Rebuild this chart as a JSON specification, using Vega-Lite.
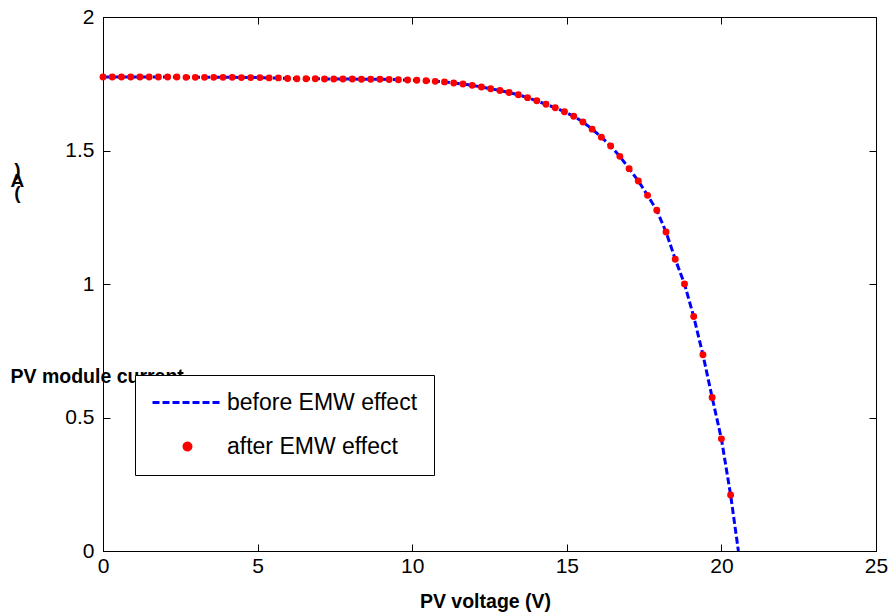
{
  "$schema": "https://vega.github.io/schema/vega-lite/v6.json",
  "width": 773,
  "height": 534,
  "autosize": {"type": "none"},
  "padding": {"left": 103, "top": 17, "right": 15, "bottom": 64},
  "background": "white",
  "config": {
    "view": {"stroke": "black", "strokeWidth": 1},
    "font": "Liberation Sans",
    "axis": {
      "labelFont": "Liberation Sans",
      "labelFontSize": 21,
      "labelColor": "black",
      "labelFlush": false,
      "tickColor": "black",
      "domainColor": "black",
      "tickSize": -7,
      "grid": false,
      "titleFont": "Liberation Sans",
      "titleFontSize": 19.5,
      "titleFontWeight": "bold",
      "titleColor": "black"
    }
  },
  "datasets": {
    "before": [
      {"V": 0.000, "I": 1.775, "series": "before EMW effect"},
      {"V": 0.299, "I": 1.775, "series": "before EMW effect"},
      {"V": 0.597, "I": 1.775, "series": "before EMW effect"},
      {"V": 0.896, "I": 1.775, "series": "before EMW effect"},
      {"V": 1.194, "I": 1.775, "series": "before EMW effect"},
      {"V": 1.493, "I": 1.775, "series": "before EMW effect"},
      {"V": 1.791, "I": 1.775, "series": "before EMW effect"},
      {"V": 2.090, "I": 1.775, "series": "before EMW effect"},
      {"V": 2.388, "I": 1.775, "series": "before EMW effect"},
      {"V": 2.687, "I": 1.774, "series": "before EMW effect"},
      {"V": 2.985, "I": 1.774, "series": "before EMW effect"},
      {"V": 3.284, "I": 1.774, "series": "before EMW effect"},
      {"V": 3.582, "I": 1.774, "series": "before EMW effect"},
      {"V": 3.881, "I": 1.774, "series": "before EMW effect"},
      {"V": 4.179, "I": 1.774, "series": "before EMW effect"},
      {"V": 4.478, "I": 1.773, "series": "before EMW effect"},
      {"V": 4.776, "I": 1.773, "series": "before EMW effect"},
      {"V": 5.075, "I": 1.773, "series": "before EMW effect"},
      {"V": 5.373, "I": 1.772, "series": "before EMW effect"},
      {"V": 5.672, "I": 1.772, "series": "before EMW effect"},
      {"V": 5.970, "I": 1.770, "series": "before EMW effect"},
      {"V": 6.269, "I": 1.769, "series": "before EMW effect"},
      {"V": 6.567, "I": 1.769, "series": "before EMW effect"},
      {"V": 6.866, "I": 1.769, "series": "before EMW effect"},
      {"V": 7.164, "I": 1.768, "series": "before EMW effect"},
      {"V": 7.463, "I": 1.768, "series": "before EMW effect"},
      {"V": 7.761, "I": 1.768, "series": "before EMW effect"},
      {"V": 8.060, "I": 1.768, "series": "before EMW effect"},
      {"V": 8.358, "I": 1.767, "series": "before EMW effect"},
      {"V": 8.657, "I": 1.767, "series": "before EMW effect"},
      {"V": 8.955, "I": 1.767, "series": "before EMW effect"},
      {"V": 9.254, "I": 1.766, "series": "before EMW effect"},
      {"V": 9.552, "I": 1.765, "series": "before EMW effect"},
      {"V": 9.851, "I": 1.764, "series": "before EMW effect"},
      {"V": 10.149, "I": 1.763, "series": "before EMW effect"},
      {"V": 10.448, "I": 1.761, "series": "before EMW effect"},
      {"V": 10.746, "I": 1.759, "series": "before EMW effect"},
      {"V": 11.045, "I": 1.757, "series": "before EMW effect"},
      {"V": 11.343, "I": 1.753, "series": "before EMW effect"},
      {"V": 11.642, "I": 1.749, "series": "before EMW effect"},
      {"V": 11.940, "I": 1.744, "series": "before EMW effect"},
      {"V": 12.239, "I": 1.738, "series": "before EMW effect"},
      {"V": 12.537, "I": 1.731, "series": "before EMW effect"},
      {"V": 12.836, "I": 1.725, "series": "before EMW effect"},
      {"V": 13.134, "I": 1.717, "series": "before EMW effect"},
      {"V": 13.433, "I": 1.709, "series": "before EMW effect"},
      {"V": 13.731, "I": 1.698, "series": "before EMW effect"},
      {"V": 14.030, "I": 1.686, "series": "before EMW effect"},
      {"V": 14.328, "I": 1.673, "series": "before EMW effect"},
      {"V": 14.627, "I": 1.660, "series": "before EMW effect"},
      {"V": 14.925, "I": 1.645, "series": "before EMW effect"},
      {"V": 15.224, "I": 1.628, "series": "before EMW effect"},
      {"V": 15.522, "I": 1.607, "series": "before EMW effect"},
      {"V": 15.821, "I": 1.580, "series": "before EMW effect"},
      {"V": 16.119, "I": 1.550, "series": "before EMW effect"},
      {"V": 16.418, "I": 1.517, "series": "before EMW effect"},
      {"V": 16.716, "I": 1.478, "series": "before EMW effect"},
      {"V": 17.015, "I": 1.432, "series": "before EMW effect"},
      {"V": 17.313, "I": 1.386, "series": "before EMW effect"},
      {"V": 17.612, "I": 1.332, "series": "before EMW effect"},
      {"V": 17.910, "I": 1.276, "series": "before EMW effect"},
      {"V": 18.209, "I": 1.195, "series": "before EMW effect"},
      {"V": 18.507, "I": 1.093, "series": "before EMW effect"},
      {"V": 18.806, "I": 1.000, "series": "before EMW effect"},
      {"V": 19.104, "I": 0.878, "series": "before EMW effect"},
      {"V": 19.403, "I": 0.735, "series": "before EMW effect"},
      {"V": 19.701, "I": 0.575, "series": "before EMW effect"},
      {"V": 20.000, "I": 0.420, "series": "before EMW effect"},
      {"V": 20.298, "I": 0.210, "series": "before EMW effect"},
      {"V": 20.550, "I": 0.000, "series": "before EMW effect"}
    ],
    "after": [
      {"V": 0.000, "I": 1.775, "series": "after EMW effect"},
      {"V": 0.299, "I": 1.775, "series": "after EMW effect"},
      {"V": 0.597, "I": 1.775, "series": "after EMW effect"},
      {"V": 0.896, "I": 1.775, "series": "after EMW effect"},
      {"V": 1.194, "I": 1.775, "series": "after EMW effect"},
      {"V": 1.493, "I": 1.775, "series": "after EMW effect"},
      {"V": 1.791, "I": 1.775, "series": "after EMW effect"},
      {"V": 2.090, "I": 1.775, "series": "after EMW effect"},
      {"V": 2.388, "I": 1.775, "series": "after EMW effect"},
      {"V": 2.687, "I": 1.774, "series": "after EMW effect"},
      {"V": 2.985, "I": 1.774, "series": "after EMW effect"},
      {"V": 3.284, "I": 1.774, "series": "after EMW effect"},
      {"V": 3.582, "I": 1.774, "series": "after EMW effect"},
      {"V": 3.881, "I": 1.774, "series": "after EMW effect"},
      {"V": 4.179, "I": 1.774, "series": "after EMW effect"},
      {"V": 4.478, "I": 1.773, "series": "after EMW effect"},
      {"V": 4.776, "I": 1.773, "series": "after EMW effect"},
      {"V": 5.075, "I": 1.773, "series": "after EMW effect"},
      {"V": 5.373, "I": 1.772, "series": "after EMW effect"},
      {"V": 5.672, "I": 1.772, "series": "after EMW effect"},
      {"V": 5.970, "I": 1.770, "series": "after EMW effect"},
      {"V": 6.269, "I": 1.769, "series": "after EMW effect"},
      {"V": 6.567, "I": 1.769, "series": "after EMW effect"},
      {"V": 6.866, "I": 1.769, "series": "after EMW effect"},
      {"V": 7.164, "I": 1.768, "series": "after EMW effect"},
      {"V": 7.463, "I": 1.768, "series": "after EMW effect"},
      {"V": 7.761, "I": 1.768, "series": "after EMW effect"},
      {"V": 8.060, "I": 1.768, "series": "after EMW effect"},
      {"V": 8.358, "I": 1.767, "series": "after EMW effect"},
      {"V": 8.657, "I": 1.767, "series": "after EMW effect"},
      {"V": 8.955, "I": 1.767, "series": "after EMW effect"},
      {"V": 9.254, "I": 1.766, "series": "after EMW effect"},
      {"V": 9.552, "I": 1.765, "series": "after EMW effect"},
      {"V": 9.851, "I": 1.764, "series": "after EMW effect"},
      {"V": 10.149, "I": 1.763, "series": "after EMW effect"},
      {"V": 10.448, "I": 1.761, "series": "after EMW effect"},
      {"V": 10.746, "I": 1.759, "series": "after EMW effect"},
      {"V": 11.045, "I": 1.757, "series": "after EMW effect"},
      {"V": 11.343, "I": 1.753, "series": "after EMW effect"},
      {"V": 11.642, "I": 1.749, "series": "after EMW effect"},
      {"V": 11.940, "I": 1.744, "series": "after EMW effect"},
      {"V": 12.239, "I": 1.738, "series": "after EMW effect"},
      {"V": 12.537, "I": 1.731, "series": "after EMW effect"},
      {"V": 12.836, "I": 1.725, "series": "after EMW effect"},
      {"V": 13.134, "I": 1.717, "series": "after EMW effect"},
      {"V": 13.433, "I": 1.709, "series": "after EMW effect"},
      {"V": 13.731, "I": 1.698, "series": "after EMW effect"},
      {"V": 14.030, "I": 1.686, "series": "after EMW effect"},
      {"V": 14.328, "I": 1.673, "series": "after EMW effect"},
      {"V": 14.627, "I": 1.660, "series": "after EMW effect"},
      {"V": 14.925, "I": 1.645, "series": "after EMW effect"},
      {"V": 15.224, "I": 1.628, "series": "after EMW effect"},
      {"V": 15.522, "I": 1.607, "series": "after EMW effect"},
      {"V": 15.821, "I": 1.580, "series": "after EMW effect"},
      {"V": 16.119, "I": 1.550, "series": "after EMW effect"},
      {"V": 16.418, "I": 1.517, "series": "after EMW effect"},
      {"V": 16.716, "I": 1.478, "series": "after EMW effect"},
      {"V": 17.015, "I": 1.432, "series": "after EMW effect"},
      {"V": 17.313, "I": 1.386, "series": "after EMW effect"},
      {"V": 17.612, "I": 1.332, "series": "after EMW effect"},
      {"V": 17.910, "I": 1.276, "series": "after EMW effect"},
      {"V": 18.209, "I": 1.195, "series": "after EMW effect"},
      {"V": 18.507, "I": 1.093, "series": "after EMW effect"},
      {"V": 18.806, "I": 1.000, "series": "after EMW effect"},
      {"V": 19.104, "I": 0.878, "series": "after EMW effect"},
      {"V": 19.403, "I": 0.735, "series": "after EMW effect"},
      {"V": 19.701, "I": 0.575, "series": "after EMW effect"},
      {"V": 20.000, "I": 0.420, "series": "after EMW effect"},
      {"V": 20.298, "I": 0.210, "series": "after EMW effect"}
    ]
  },
  "resolve": {"axis": {"x": "independent", "y": "independent"}},
  "layer": [
    {
      "data": {"name": "before"},
      "mark": {"type": "line", "strokeDash": [7, 3], "strokeWidth": 3},
      "encoding": {
        "x": {
          "field": "V", "type": "quantitative",
          "scale": {"domain": [0, 25], "nice": false, "zero": false},
          "axis": {
            "orient": "bottom",
            "values": [0, 5, 10, 15, 20, 25],
            "format": "~g",
            "labelPadding": 11,
            "title": "PV voltage (V)",
            "titleX": 382,
            "titleY": 56,
            "titleBaseline": "alphabetic"
          }
        },
        "y": {
          "field": "I", "type": "quantitative",
          "scale": {"domain": [0, 2], "nice": false, "zero": false},
          "axis": {
            "orient": "left",
            "values": [0, 0.5, 1, 1.5, 2],
            "format": "~g",
            "labelPadding": 16,
            "title": "PV module current",
            "titleAngle": 0,
            "titleAlign": "left",
            "titleX": -93,
            "titleY": 365,
            "titleBaseline": "alphabetic"
          }
        },
        "color": {
          "field": "series", "type": "nominal",
          "scale": {"domain": ["before EMW effect", "after EMW effect"], "range": ["#0000ff", "#ff0000"]},
          "legend": {
            "title": null,
            "orient": "none",
            "legendX": 32,
            "legendY": 358,
            "fillColor": "white",
            "strokeColor": "black",
            "padding": 16,
            "rowPadding": 20,
            "labelFont": "Liberation Sans",
            "labelFontSize": 23,
            "labelColor": "black",
            "labelOffset": 28,
            "symbolOffset": 25,
            "labelLimit": 400,
            "symbolSize": 4900,
            "cornerRadius": 0,
            "encode": {
              "symbols": {
                "update": {
                  "shape": {"signal": "datum.value === 'before EMW effect' ? 'M-1,0L1,0' : 'circle'"},
                  "size": {"signal": "datum.value === 'before EMW effect' ? 4900 : 48"},
                  "stroke": {"signal": "datum.value === 'before EMW effect' ? '#0000ff' : 'transparent'"},
                  "fill": {"signal": "datum.value === 'before EMW effect' ? 'transparent' : '#ff0000'"},
                  "strokeDash": {"signal": "datum.value === 'before EMW effect' ? [7, 3] : [1, 0]"},
                  "strokeWidth": {"value": 3},
                  "opacity": {"value": 1}
                }
              }
            }
          }
        }
      }
    },
    {
      "data": {"name": "after"},
      "mark": {"type": "point", "filled": true, "size": 48, "opacity": 1},
      "encoding": {
        "x": {
          "field": "V", "type": "quantitative",
          "axis": {"orient": "top", "values": [0, 5, 10, 15, 20, 25], "labels": false, "domain": false, "title": null}
        },
        "y": {
          "field": "I", "type": "quantitative",
          "axis": {"orient": "right", "values": [0, 0.5, 1, 1.5, 2], "labels": false, "domain": false, "title": null}
        },
        "color": {"field": "series", "type": "nominal"}
      }
    },
    {
      "data": {"values": [{"V": -2.77, "I": 1.427, "t": ")\nA\n("}]},
      "mark": {"type": "text", "fontSize": 19, "fontWeight": "bold", "font": "Liberation Sans", "lineBreak": "\n", "lineHeight": 11.5, "align": "center", "baseline": "middle", "color": "black"},
      "encoding": {
        "x": {"field": "V", "type": "quantitative", "axis": null},
        "y": {"field": "I", "type": "quantitative", "axis": null},
        "text": {"field": "t"}
      }
    }
  ]
}
